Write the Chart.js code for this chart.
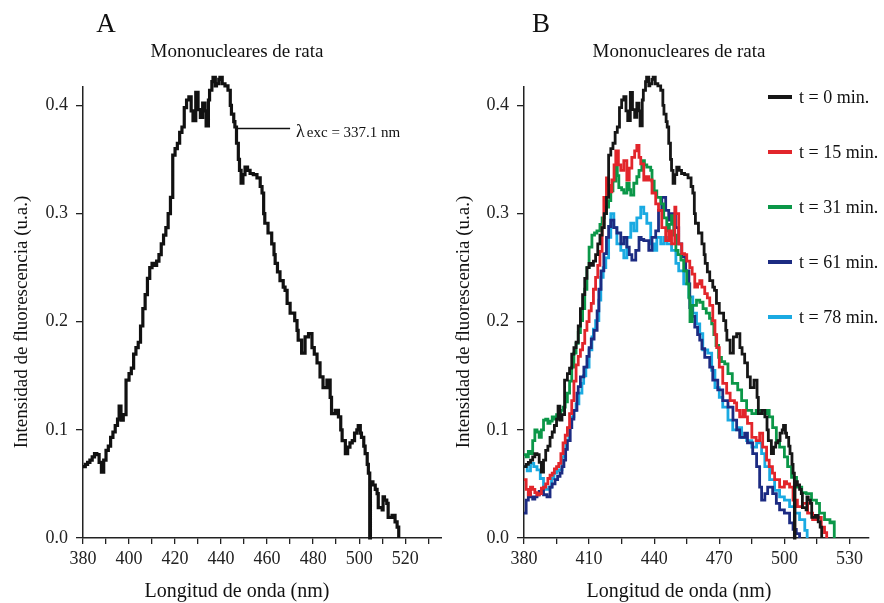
<!DOCTYPE html>
<html>
<head>
<meta charset="utf-8">
<script src="https://cdn.jsdelivr.net/npm/chart.js@4/dist/chart.umd.min.js"></script>
<style>
  html, body { margin: 0; padding: 0; background: #fff; }
  #wrap { position: relative; width: 884px; height: 603px; }
  .panel { position: absolute; top: 0; width: 442px; height: 603px; }
</style>
</head>
<body>
<div id="wrap">
  <div class="panel" style="left:0"><canvas id="chartA"></canvas></div>
  <div class="panel" style="left:442px"><canvas id="chartB"></canvas></div>
</div>
<script>
const SERIF = '"Liberation Serif", "DejaVu Serif", serif';

// tick positions and labels
const xTicksA = [380,390,400,410,420,430,440,450,460,470,480,490,500,510,520,530];
const xLabelsA = [380,400,420,440,460,480,500,520];
const xTicksB = [380,395,410,425,440,455,470,485,500,515,530];
const xLabelsB = [380,410,440,470,500,530];
const yTicks = [0,0.1,0.2,0.3,0.4];

// t = 0 min (panel A, and black in panel B)
const wl0 = [380,381,382,383,384,385,386,387,388,389,390,391,392,393,394,395,395.7,396.5,397.5,398.7,400,401,402,403,404,405,406,407,408,409,410,411,412,413,414,415,416,417,418,419,420,421,422,423,424,425,426,427,427.8,429,430,431,432,433,433.5,434.5,435,436,436.5,437.5,438,439,439.5,440.5,441.7,443,444,444.5,445.5,446,446.7,447.5,448,448.7,449.5,450.4,451.5,452.6,454,455.6,457,457.8,458.5,459,460.4,462,463,463.5,464.5,465.6,467,467.8,468.7,470,472,473,473.5,475,476.5,478,479.5,480.5,481.7,483,484.3,486,487.4,488,489.6,491,492,492.6,494,495,496,497,498,499,499.6,500.5,501,502,502.6,503.5,504,504.6,504.9,506,507,507.8,508.3,510,510.4,511,512,512.6,514.3,515.6,516.5,517.2];
const val0 = [0.066,0.068,0.070,0.072,0.075,0.078,0.077,0.070,0.061,0.072,0.081,0.085,0.093,0.098,0.104,0.110,0.122,0.109,0.114,0.146,0.152,0.157,0.170,0.176,0.181,0.196,0.212,0.225,0.240,0.250,0.254,0.252,0.256,0.262,0.272,0.280,0.287,0.300,0.315,0.354,0.360,0.365,0.375,0.380,0.398,0.405,0.408,0.395,0.386,0.412,0.396,0.389,0.402,0.395,0.381,0.405,0.414,0.422,0.426,0.418,0.420,0.424,0.426,0.420,0.418,0.414,0.400,0.392,0.385,0.380,0.365,0.350,0.340,0.328,0.336,0.343,0.340,0.337,0.336,0.333,0.325,0.319,0.300,0.291,0.282,0.272,0.262,0.254,0.246,0.238,0.232,0.229,0.217,0.208,0.201,0.192,0.183,0.171,0.186,0.189,0.176,0.170,0.162,0.149,0.139,0.146,0.130,0.115,0.118,0.112,0.100,0.090,0.078,0.084,0.088,0.090,0.097,0.100,0.104,0.097,0.093,0.085,0.078,0.068,0.060,0.0,0.052,0.049,0.045,0.041,0.028,0.026,0.038,0.035,0.032,0.019,0.021,0.015,0.010,0.0];

// t = 15 min
const wl15 = [380,381,382,383,384,385,386,387,388,389,390,391,392,393,394,395,396,397,398,399,400,401,402,403,404,405,406,407,408,409,410,411,412,413,414,415,416,416.8,418,419,420,420.5,421.5,422.3,423.5,424.6,426,427.4,428.5,429.7,431,432,433,433.8,435.2,436.5,437.5,439,440.7,442,443.5,445.3,446.7,448,449.5,450,451.3,452.7,454,455,456.4,457.5,458.7,460,461,462,463.3,464.5,465.6,467,468,468.8,470,471.6,473.4,475,477,478,479.4,480.8,482,483,485,487,488.6,490,491.8,493,494.5,495.5,497.8,500,501,502.4,504,506,508.4,510.7,513,515.3,517,518.5,519.5];
const val15 = [0.054,0.045,0.040,0.047,0.045,0.042,0.040,0.041,0.046,0.047,0.050,0.055,0.058,0.060,0.064,0.066,0.069,0.078,0.088,0.095,0.102,0.115,0.127,0.145,0.160,0.168,0.174,0.180,0.192,0.200,0.210,0.217,0.230,0.241,0.252,0.265,0.287,0.315,0.333,0.326,0.320,0.331,0.345,0.358,0.345,0.340,0.349,0.331,0.342,0.352,0.358,0.363,0.352,0.346,0.331,0.334,0.331,0.319,0.309,0.303,0.287,0.275,0.284,0.272,0.306,0.300,0.272,0.263,0.262,0.256,0.250,0.244,0.232,0.235,0.238,0.232,0.226,0.222,0.215,0.201,0.188,0.176,0.158,0.143,0.134,0.127,0.125,0.118,0.112,0.118,0.112,0.106,0.093,0.090,0.097,0.084,0.072,0.066,0.060,0.054,0.047,0.052,0.050,0.047,0.035,0.029,0.032,0.023,0.017,0.019,0.010,0.005,0.0];

// t = 31 min
const wl31 = [380,381,382,383,384,385,386,387,388,389,390,391,392,393,394,395,396,397,398,399,400,401,402,403,404,405,406,407,408,409,410,411.3,412.5,413.6,415,416,417,418,419,420,421,422.3,423,423.7,425,426,427.4,428.5,429.2,430.6,432,433,434.3,435.5,436.6,438.4,439,440,441.2,443,444.4,445.8,447,448,449,450,451,452.3,453.6,455,456,456.5,457.5,459.5,461,462.5,464,465.5,466.5,467.5,468.5,469.7,471,472.5,474,476,478.5,480.3,482.6,485,487,489.5,491.8,493,494.6,496.3,497.8,500,501.5,503.3,505.6,508,510,512.5,514.8,516.2,518.5,521,522.3,523];
const val31 = [0.077,0.075,0.080,0.078,0.090,0.100,0.098,0.093,0.100,0.109,0.110,0.106,0.108,0.112,0.110,0.114,0.115,0.118,0.121,0.126,0.134,0.145,0.158,0.171,0.180,0.190,0.201,0.212,0.230,0.250,0.269,0.280,0.282,0.284,0.290,0.296,0.300,0.306,0.312,0.321,0.330,0.343,0.335,0.324,0.322,0.319,0.328,0.322,0.317,0.328,0.334,0.340,0.349,0.345,0.343,0.340,0.330,0.321,0.315,0.309,0.296,0.284,0.290,0.298,0.280,0.266,0.262,0.257,0.247,0.235,0.222,0.200,0.215,0.220,0.218,0.212,0.208,0.203,0.198,0.188,0.178,0.167,0.163,0.161,0.152,0.143,0.137,0.127,0.118,0.115,0.118,0.115,0.118,0.112,0.102,0.090,0.084,0.075,0.066,0.056,0.047,0.042,0.041,0.035,0.032,0.023,0.017,0.014,0.015,0.0];

// t = 61 min
const wl61 = [380,381,382,383,384,385,386,387,388,389,390.6,392,393,394.3,395.5,396.6,397.5,398.4,399.2,400,401.3,402,403,404.4,405,406,407.6,409,410,411,412.3,413.7,414.5,415.5,416.8,418,419,420,421.4,422.8,424.6,426,427.4,428.5,429.7,431.5,433,434,435.2,437.5,439,440.7,442,443.5,445.3,446.7,448,449.8,451.3,452.7,454.5,456,456.4,457.5,458.7,460,461,462,463.3,465.6,467,469.3,471.6,474,476.3,478,479.4,481.7,483,485.4,487.2,488.6,489.5,491,492.3,494.6,496.3,497.8,500,502.4,504,505.5,507];
const val61 = [0.023,0.035,0.041,0.038,0.036,0.038,0.040,0.043,0.044,0.040,0.038,0.047,0.050,0.054,0.057,0.060,0.066,0.072,0.082,0.090,0.102,0.110,0.118,0.134,0.140,0.149,0.158,0.168,0.176,0.184,0.192,0.210,0.230,0.247,0.263,0.278,0.288,0.294,0.287,0.282,0.272,0.278,0.269,0.262,0.257,0.266,0.278,0.276,0.275,0.266,0.278,0.284,0.303,0.315,0.303,0.294,0.300,0.287,0.272,0.260,0.247,0.235,0.213,0.205,0.195,0.188,0.183,0.175,0.167,0.158,0.146,0.137,0.127,0.121,0.109,0.100,0.093,0.097,0.088,0.078,0.066,0.047,0.035,0.041,0.047,0.041,0.032,0.026,0.023,0.014,0.008,0.004,0.0];

// t = 78 min
const wl78 = [380,381.5,383,384.5,386,387.5,389,390,391.5,392.7,393.8,395,396,397.5,398.5,399.3,400.7,402,403,404,405.3,406.7,407.5,408.5,410,411.3,412,413,414.5,415.4,416.5,417.7,419,420,421.4,422.8,424.6,426,427.4,429.2,430.6,432,433.8,435.2,436.6,438.4,440,441.2,443,444.4,445.8,448,450,451.3,453.6,456,457.8,459.5,461,462.4,464.7,466.5,468,470,471.6,474,476.2,478.5,480.3,482.6,485,487.2,489.5,491,493.2,495.5,497.8,500,502.4,504.7,507,509.4,510.5];
const val78 = [0.066,0.062,0.069,0.066,0.063,0.055,0.047,0.045,0.047,0.055,0.060,0.062,0.063,0.075,0.082,0.090,0.102,0.112,0.118,0.124,0.134,0.143,0.150,0.158,0.174,0.186,0.193,0.201,0.220,0.241,0.250,0.259,0.278,0.300,0.287,0.272,0.266,0.259,0.278,0.291,0.284,0.296,0.306,0.300,0.291,0.272,0.266,0.278,0.272,0.278,0.272,0.266,0.254,0.247,0.235,0.223,0.208,0.198,0.189,0.174,0.171,0.155,0.139,0.130,0.121,0.109,0.100,0.102,0.093,0.090,0.084,0.088,0.078,0.066,0.054,0.044,0.038,0.035,0.029,0.023,0.017,0.007,0.0];

const seriesB = [
    { label: "t = 0 min.",  wl: wl0,  val: val0,  color: "#161616" },
    { label: "t = 15 min.", wl: wl15, val: val15, color: "#e2252b" },
    { label: "t = 31 min.", wl: wl31, val: val31, color: "#0b9748" },
    { label: "t = 61 min.", wl: wl61, val: val61, color: "#1c2b82" },
    { label: "t = 78 min.", wl: wl78, val: val78, color: "#1aaae2" },
];

const pts = (wl, val) => wl.map((x, i) => ({ x: x, y: val[i] }));

const line = (label, wl, val, color, width) => ({
    label: label,
    data: pts(wl, val),
    borderColor: color,
    backgroundColor: color,
    borderWidth: width,
    pointRadius: 0,
    stepped: true,
    clip: false,
});

function axes(xmax, xTicks, xLabels, yWidth) {
    return {
        x: {
            type: "linear", min: 380, max: xmax,
            afterFit: (s) => { s.height = 65; },
            afterBuildTicks: (s) => { s.ticks = xTicks.map((v) => ({ value: v })); },
            border: { display: true, color: "#222", width: 1.5 },
            grid: { drawOnChartArea: false, drawTicks: true, tickLength: 6, tickColor: "#222", lineWidth: 1.3 },
            ticks: {
                autoSkip: false, maxRotation: 0,
                padding: 4, color: "#222", font: { family: SERIF, size: 18 },
                callback: (v) => (xLabels.includes(v) ? String(v) : ""),
            },
        },
        y: {
            min: 0, max: 0.417,
            afterFit: (s) => { s.width = yWidth; },
            afterBuildTicks: (s) => { s.ticks = yTicks.map((v) => ({ value: v })); },
            border: { display: true, color: "#222", width: 1.5 },
            grid: { drawOnChartArea: false, drawTicks: true, tickLength: 7, tickColor: "#222", lineWidth: 1.3 },
            ticks: {
                padding: 8, color: "#222",
                font: { family: SERIF, size: 18 },
                callback: (v) => v.toFixed(1),
            },
        },
    };
}

// letters, subtitle, axis titles (and annotation / legend)
const panelText = {
    id: "panelText",
    afterDraw(chart, args, o) {
        const ctx = chart.ctx;
        ctx.save();
        ctx.fillStyle = "#111";
        ctx.textBaseline = "alphabetic";
        ctx.textAlign = "center";
        ctx.font = "27px " + SERIF;
        ctx.fillText(o.letter, o.letterX, 32);
        ctx.font = "19px " + SERIF;
        ctx.fillText("Mononucleares de rata", 237, 57);
        ctx.font = "20px " + SERIF;
        ctx.fillText("Longitud de onda (nm)", 237, 597);
        ctx.save();
        ctx.translate(27, 322);
        ctx.rotate(-Math.PI / 2);
        ctx.font = "19px " + SERIF;
        ctx.fillText("Intensidad de fluorescencia (u.a.)", 0, 0);
        ctx.restore();

        if (o.note) {
            const xs = chart.scales.x, ys = chart.scales.y;
            const y = Math.round(ys.getPixelForValue(0.3795)) + 0.5;
            ctx.strokeStyle = "#111";
            ctx.lineWidth = 1.5;
            ctx.beginPath();
            ctx.moveTo(xs.getPixelForValue(447), y);
            ctx.lineTo(xs.getPixelForValue(470), y);
            ctx.stroke();
            ctx.textAlign = "left";
            let tx = xs.getPixelForValue(472.6);
            ctx.font = "18px " + SERIF;
            ctx.fillText("\u03bb", tx, 137);
            tx += ctx.measureText("\u03bb").width + 2;
            ctx.font = "15px " + SERIF;
            ctx.fillText("exc = 337.1 nm", tx, 137);
        }

        if (o.legend) {
            ctx.textAlign = "left";
            ctx.font = "18px " + SERIF;
            seriesB.forEach((s, i) => {
                const y = 97 + i * 55;
                ctx.strokeStyle = s.color;
                ctx.lineWidth = 4;
                ctx.beginPath();
                ctx.moveTo(326, y);
                ctx.lineTo(350, y);
                ctx.stroke();
                ctx.fillText(s.label, 357, y + 6);
            });
        }
        ctx.restore();
    },
};

Chart.defaults.font.family = SERIF;
Chart.defaults.animation = false;

new Chart(document.getElementById("chartA"), {
    type: "line",
    data: { datasets: [line("t = 0 min.", wl0, val0, "#111", 3.2)] },
    options: {
        responsive: true,
        maintainAspectRatio: false,
        layout: { padding: { top: 87, right: 0, left: 0, bottom: 0 } },
        scales: axes(536, xTicksA, xLabelsA, 83),
        plugins: {
            legend: { display: false },
            tooltip: { enabled: false },
            panelText: { letter: "A", letterX: 106, note: true },
        },
    },
    plugins: [panelText],
});

new Chart(document.getElementById("chartB"), {
    type: "line",
    data: { datasets: seriesB.map((s) => line(s.label, s.wl, s.val, s.color, 2.8)) },
    options: {
        responsive: true,
        maintainAspectRatio: false,
        layout: { padding: { top: 87, right: 15, left: 0, bottom: 0 } },
        scales: axes(539, xTicksB, xLabelsB, 82),
        plugins: {
            legend: { display: false },
            tooltip: { enabled: false },
            panelText: { letter: "B", letterX: 99, legend: true },
        },
    },
    plugins: [panelText],
});
</script>
</body>
</html>
